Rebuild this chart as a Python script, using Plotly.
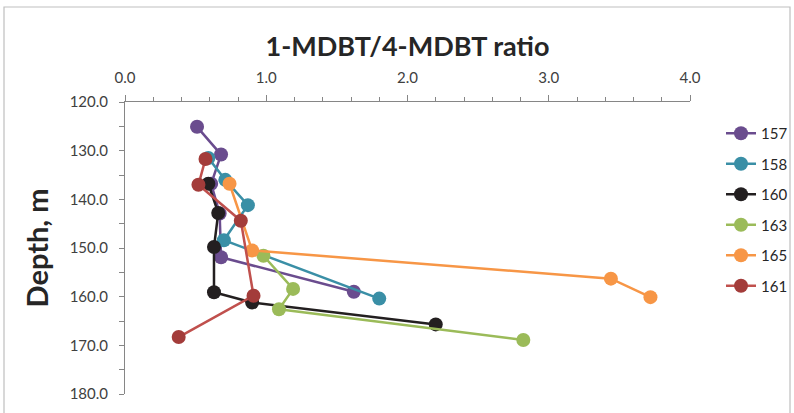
import plotly.graph_objects as go

# ---- data ----
series_names = ["157", "158", "160", "163", "165", "161"]

ratio_157 = [0.51, 0.68, 0.61, 0.67, 0.68, 1.62]
depth_157 = [125.1, 130.8, 136.8, 142.9, 151.9, 159.0]

ratio_158 = [0.59, 0.71, 0.87, 0.70, 1.80]
depth_158 = [131.5, 136.0, 141.2, 148.4, 160.4]

ratio_160 = [0.59, 0.66, 0.63, 0.63, 0.90, 2.20]
depth_160 = [136.8, 142.8, 149.8, 159.1, 161.2, 165.7]

ratio_163 = [0.98, 1.19, 1.09, 2.82]
depth_163 = [151.6, 158.4, 162.6, 168.9]

ratio_165 = [0.74, 0.90, 3.44, 3.72]
depth_165 = [136.8, 150.5, 156.3, 160.1]

ratio_161 = [0.57, 0.52, 0.82, 0.91, 0.38]
depth_161 = [131.7, 137.0, 144.4, 159.8, 168.3]

x_series = [ratio_157, ratio_158, ratio_160, ratio_163, ratio_165, ratio_161]
y_series = [depth_157, depth_158, depth_160, depth_163, depth_165, depth_161]
colors = ["#6A4C8E", "#3A8FA6", "#231F20", "#9BBB59", "#F79646", "#A33C3A"]
line_colors = ["#6A4C8E", "#3A8FA6", "#231F20", "#9BBB59", "#F79646", "#C0504D"]

x_ticks = [0, 1, 2, 3, 4]
y_ticks = [120, 130, 140, 150, 160, 170, 180]

FONT = "Lato"

fig = go.Figure()
for name, xs, ys, c, lc in zip(series_names, x_series, y_series, colors, line_colors):
    fig.add_trace(go.Scatter(
        x=xs, y=ys, name=name, mode="lines+markers",
        legendgroup=name,
        line=dict(color=lc, width=2.5),
        marker=dict(color=c, size=14, line=dict(width=0)),
    ))

# plot area geometry (pixels)
L, R, T, B = 125, 104, 102, 19
W = 794 - L - R
H = 413 - T - B

fig.update_layout(
    width=794, height=413,
    margin=dict(l=L, r=R, t=T, b=B, autoexpand=False),
    paper_bgcolor="white", plot_bgcolor="white",
    font=dict(family=FONT, color="#404040", size=15),
    title=dict(text="<b>1-MDBT/4-MDBT ratio</b>", x=0.5, xref="paper",
               y=1 - 47 / 413, yanchor="middle",
               font=dict(family=FONT, size=27, color="#262626")),
    showlegend=True,
    legend=dict(x=(721 - L) / W, xanchor="left", y=1 - (117 - T) / H, yanchor="top",
                font=dict(family=FONT, size=15, color="#262626"),
                tracegroupgap=8, bgcolor="rgba(0,0,0,0)"),
    shapes=[dict(type="rect", xref="paper", yref="paper",
                 x0=(4 - L) / W, x1=(790 - L) / W,
                 y0=-0.5, y1=1 + (T - 7) / H,
                 line=dict(color="#BFBFBF", width=1.2))],
)

fig.update_xaxes(
    side="top", range=[0, 4], tickvals=x_ticks, tickformat=".1f",
    showline=True, linecolor="#868686", linewidth=1,
    ticks="outside", ticklen=6, tickcolor="#868686",
    minor=dict(dtick=0.2, ticks="outside", ticklen=4, tickcolor="#868686"),
    showgrid=False, zeroline=False, ticklabelstandoff=6,
    tickfont=dict(family=FONT, size=15, color="#404040"),
)
fig.update_yaxes(
    range=[180, 120], tickvals=y_ticks, tickformat=".1f",
    showline=True, linecolor="#868686", linewidth=1,
    ticks="outside", ticklen=5, tickcolor="#868686",
    minor=dict(dtick=5, ticks="outside", ticklen=5, tickcolor="#868686"),
    showgrid=False, zeroline=False, ticklabelstandoff=8,
    tickfont=dict(family=FONT, size=15, color="#404040"),
    title=dict(text="<b>Depth, m</b>", font=dict(family=FONT, size=29, color="#262626"),
               standoff=12),
)

fig.write_html("out.html")
